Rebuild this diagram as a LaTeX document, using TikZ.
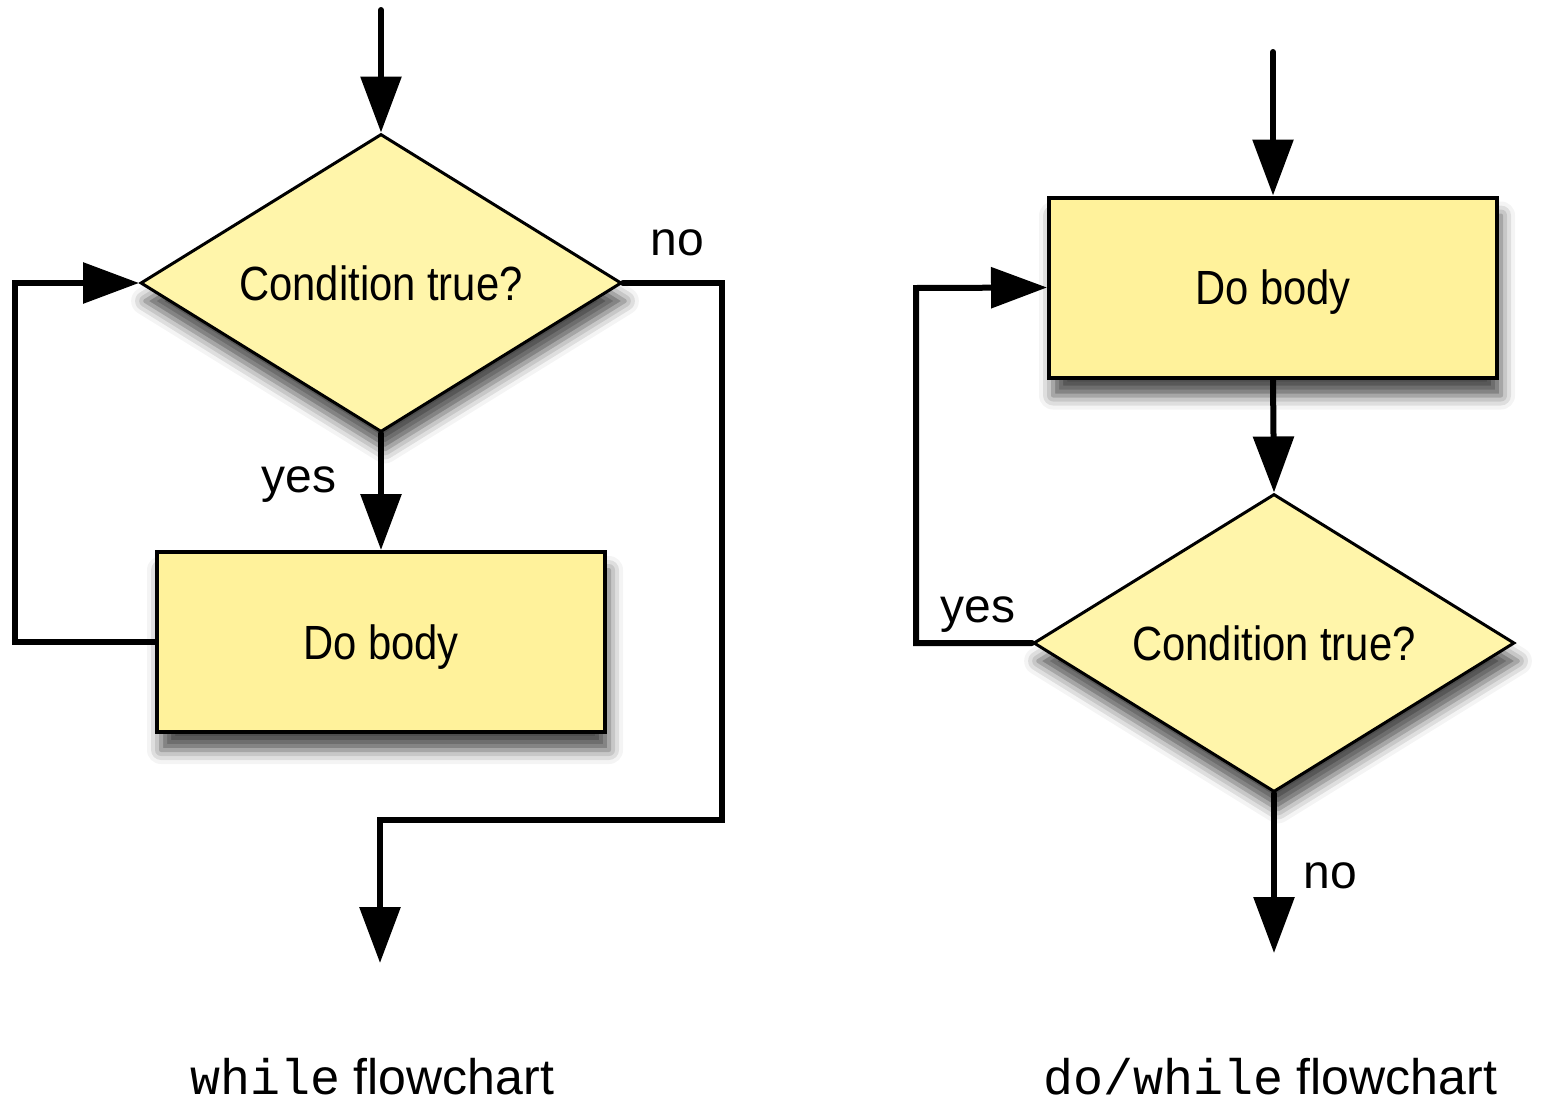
\documentclass[tikz,border=0pt]{standalone}
\usepackage{fontspec}
\setmainfont{Liberation Sans}
\setmonofont{Liberation Mono}
\newfontfamily\narrowfont{Liberation Sans}[FakeStretch=0.87]
\usetikzlibrary{arrows.meta,shapes.geometric,shadows.blur}
\definecolor{dfill}{RGB}{255,245,170}
\definecolor{rfill}{RGB}{255,242,155}
\tikzset{
  shad/.style={blur shadow={shadow xshift=2pt,shadow yshift=-9pt,shadow blur radius=7pt,shadow opacity=70}},
  decision/.style={shape=diamond,shape aspect=1.6,draw=black,line width=1.5pt,fill=dfill,inner sep=0pt,
    minimum width=240.5pt,minimum height=149pt,text depth=0pt,shad,font=\narrowfont\fontsize{24}{28}\selectfont},
  process/.style={shape=rectangle,draw=black,line width=2pt,fill=rfill,inner sep=0pt,
    minimum width=224pt,minimum height=90pt,text depth=0pt,shad,font=\narrowfont\fontsize{24}{28}\selectfont},
  conn/.style={line width=3pt,line cap=round,-{Triangle[length=28pt,width=20pt]}},
  lbl/.style={font=\fontsize{24}{28}\selectfont,inner sep=0pt,anchor=base},
  captext/.style={font=\fontsize{25}{30}\selectfont,inner sep=0pt,anchor=base}
}
\begin{document}
\begin{tikzpicture}[x=0.5pt,y=-0.5pt]
\useasboundingbox (0,0) rectangle (1562,1108);
% left: while
\node[decision] (d1) at (381,283) {Condition true?};
\node[process] (r1) at (381,642) {Do body};
\coordinate (s1) at (381,10);
\coordinate (l1) at (15,283);
\coordinate (n1) at (722,820);
\coordinate (e1) at (380,963);
\draw[conn] (s1) -- (d1.north);
\draw[conn] (d1.south) -- (r1.north);
\draw[conn] (r1.west) -| (l1) -- (d1.west);
\draw[conn] (d1.east) -| (n1) -| (e1);
\node[lbl] (no1) at (677,255) {no};
\node[lbl] (yes1) at (299,492) {yes};
\node[captext] (c1) at (372,1094) {\texttt{while} flowchart};
% right: do/while
\node[process] (r2) at (1273,287.5) {Do body};
\node[decision] (d2) at (1274,643) {Condition true?};
\coordinate (s2) at (1273,52);
\coordinate (l2) at (916,288);
\coordinate (e2) at (1274,953);
\draw[conn] (s2) -- (r2.north);
\draw[conn] (r2.south) -- (d2.north);
\draw[conn] (d2.west) -| (l2) -- (r2.west);
\draw[conn] (d2.south) -- (e2);
\node[lbl] (yes2) at (978,622) {yes};
\node[lbl] (no2) at (1330,888) {no};
\node[captext] (c2) at (1270,1094) {\texttt{do/while} flowchart};
\end{tikzpicture}
\end{document}
